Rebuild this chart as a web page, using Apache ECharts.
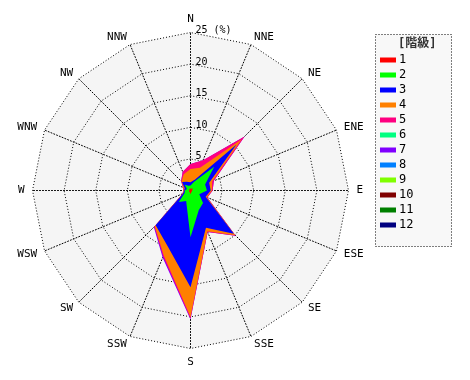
<!DOCTYPE html>
<html><head><meta charset="utf-8">
<script src="https://cdn.jsdelivr.net/npm/echarts@6/dist/echarts.min.js"></script>
<style>html,body{margin:0;padding:0;background:#fff}#c{width:470px;height:380px}</style>
</head><body><div id="c"></div>
<script>
// Directions, clockwise from north
var directions = ['N','NNE','NE','ENE','E','ESE','SE','SSE','S','SSW','SW','WSW','W','WNW','NW','NNW'];
var classNames = ['1','2','3','4','5','6','7','8','9','10','11','12'];
var classColors = ['#ff0000','#00ff00','#0000ff','#ff8000','#ff0080','#00ff80','#8000ff','#0080ff','#80ff00','#800000','#008000','#000080'];
var radialTicks = [0,5,10,15,20,25];
// frequency (%) per class, per direction (same order as directions)
var class1  = [0.3,0.3,0.5,0.3,0.3,0.2,0.3,0.3,0.6,0.3,0.3,0.2,0.2,0.2,0.3,0.3];
var class2  = [0.5,1.2,4.8,2.2,2.3,1.3,2.5,3.1,6.8,1.5,2.3,0.8,0.7,0.4,1.0,0.5];
var class3  = [0.5,0.4,5.0,0.7,0.6,1.1,6.9,3.0,7.9,7.7,5.2,0.3,0.1,0.4,0.6,0.7];
var class4  = [2.1,2.0,1.1,0.5,0.2,0.2,0.3,0.6,4.7,1.6,0.2,0.1,0.1,0.2,0.1,1.3];
var class5  = [0.8,1.3,0.7,0.3,0.1,0.1,0.1,0.1,0.3,0.2,0.1,0.0,0.0,0.1,0.1,0.4];
var class6  = [0,0,0,0,0,0,0,0,0,0,0,0,0,0,0,0];
var class7  = [0,0,0,0,0,0,0,0,0.1,0.2,0.1,0,0,0,0,0];
var class8  = [0,0,0,0,0,0,0,0,0,0,0,0,0,0,0,0];
var class9  = [0,0,0,0,0,0,0,0,0,0,0,0,0,0,0,0];
var class10 = [0,0,0,0,0,0,0,0,0,0,0,0,0,0,0,0];
var class11 = [0,0,0,0,0,0,0,0,0,0,0,0,0,0,0,0];
var class12 = [0,0,0,0,0,0,0,0,0,0,0,0,0,0,0,0];
var classes = [class1,class2,class3,class4,class5,class6,class7,class8,class9,class10,class11,class12];

var FONT = "'DejaVu Sans Mono','Noto Sans CJK JP',monospace";
// ECharts radar goes counter-clockwise; reorder to get clockwise compass
var order = [0];
for (var i = directions.length - 1; i >= 1; i--) order.push(i);
var rmax = radialTicks[radialTicks.length - 1];
var indicator = order.map(function (idx, k) {
  var ind = { name: directions[idx], max: rmax, min: 0 };
  if (k === 0) ind.axisLabel = { show: true };
  return ind;
});

// cumulative (stacked) values
var cum = [];
var run = directions.map(function () { return 0; });
classes.forEach(function (arr) {
  run = run.map(function (v, j) { return v + arr[j]; });
  cum.push(run.slice());
});

var series = [];
for (var c = classes.length - 1; c >= 0; c--) {
  var total = classes[c].reduce(function (a, b) { return a + b; }, 0);
  var vals = order.map(function (idx) { return +cum[c][idx].toFixed(3); });
  series.push({
    type: 'radar', name: classNames[c], symbol: 'none', silent: true,
    itemStyle: { color: classColors[c] },
    lineStyle: { width: 0, color: classColors[c] },
    areaStyle: { color: classColors[c], opacity: 1 },
    data: total > 0 ? [{ value: vals, name: classNames[c] }] : []
  });
}

var chart = echarts.init(document.getElementById('c'), null, { renderer: 'canvas' });
chart.setOption({
  animation: false,
  backgroundColor: '#fff',
  radar: {
    center: [190.5, 190.5], radius: 158, startAngle: 90, shape: 'polygon', splitNumber: 5,
    indicator: indicator,
    axisName: { color: '#000', fontSize: 11, fontFamily: FONT },
    nameGap: 8,
    splitLine: { lineStyle: { color: '#000', type: [1, 2], width: 1 } },
    splitArea: { show: true, areaStyle: { color: ['#f5f5f5'] } },
    axisLine: { lineStyle: { color: '#000', type: [1, 2], width: 1 } },
    axisTick: { show: false },
    axisLabel: {
      show: false, color: '#000', fontSize: 10, fontFamily: FONT, margin: -5,
      align: 'left', verticalAlign: 'bottom', padding: [0, 0, -3, 0],
      formatter: function (v) { return v === 0 ? '' : (v === rmax ? v + ' (%)' : String(v)); }
    }
  },
  legend: {
    orient: 'vertical', left: 380, top: 54, padding: 0, itemWidth: 16, itemHeight: 5, itemGap: 3,
    icon: 'rect', data: classNames, selectedMode: false,
    textStyle: { color: '#000', fontSize: 12, fontFamily: FONT, lineHeight: 12, padding: [0,0,0,-2] }
  },
  graphic: [
    { type: 'rect', z: -1, shape: { x: 375.5, y: 34.5, width: 76, height: 212 },
      style: { fill: '#f8f8f8', stroke: '#000', lineWidth: 1, lineDash: [1, 2] } },
    { type: 'text', left: 398, top: 38, style: { text: '[階級]', fill: '#333', font: "bold 12px " + FONT } }
  ],
  series: series
});
</script></body></html>
